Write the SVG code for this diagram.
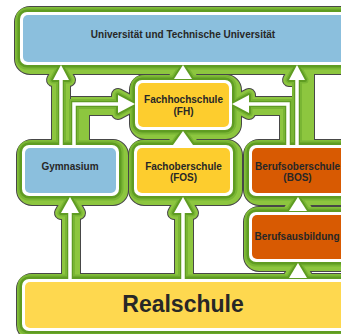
<svg xmlns="http://www.w3.org/2000/svg" xmlns:xlink="http://www.w3.org/1999/xlink" width="341" height="334" viewBox="0 0 341 334">
<style>
.ol{stroke:#474747;fill:#474747}
.lg{stroke:#8dc63f;fill:#8dc63f}
.mg{stroke:#79b534;fill:#79b534}
.dg{stroke:#5f9c22;fill:#5f9c22}
.aj{stroke-linejoin:round}
.wb{fill:#ffffff}
.blue{fill:#8bbfdd}
.yel{fill:#fdcd2e}
.ylt{fill:#fed84f}
.org{fill:#d85a02}
.t{font-family:"Liberation Sans",Arial,sans-serif;font-weight:bold;font-size:10px;fill:#272727;text-anchor:middle}
.big{font-size:23px}
.wl{fill:none;stroke:#ffffff;stroke-width:3.5}
.ah{fill:#ffffff}
</style>
<defs>
<g id="hnodes">
<rect x="22" y="14" width="336" height="53" rx="8"/>
<rect x="137" y="82" width="97" height="50" rx="8"/>
<rect x="24" y="147" width="97" height="51" rx="8"/>
<rect x="136" y="147" width="99" height="51" rx="8"/>
<rect x="251" y="147" width="106" height="51" rx="8"/>
<rect x="251" y="214" width="106" height="50" rx="8"/>
<rect x="24" y="281" width="336" height="52" rx="8"/>
</g>
<g id="hconn">
<path fill="none" d="M61 150 V70"/>
<path fill="none" d="M80 150 V106 H126"/>
<path fill="none" d="M183 62 V86"/>
<path fill="none" d="M183 127 V150"/>
<path fill="none" d="M305 150 V70"/>
<path fill="none" d="M289 150 V106 H242"/>
<path fill="none" d="M71 284 V200"/>
<path fill="none" d="M184 284 V200"/>
<path fill="none" d="M298 193 V218"/>
<path fill="none" d="M298 259 V285"/>
</g>
<g id="arrows">
<polygon points="61,65 53,80 69,80"/>
<polygon points="135,104 118,95 118,113"/>
<polygon points="183,65 174,79 192,79"/>
<polygon points="183,131 173,145 193,145"/>
<polygon points="297,65 289,80 305,80"/>
<polygon points="232,104 249,95 249,113"/>
<polygon points="70,197 61,213 79,213"/>
<polygon points="183,197 174,213 192,213"/>
<polygon points="298,197 289,211 307,211"/>
<polygon points="298,263 289,278 307,278"/>
</g>
<g id="wnodes">
<rect x="20" y="12" width="336" height="53" rx="7"/>
<rect x="135" y="80" width="97" height="50" rx="7"/>
<rect x="22" y="145" width="97" height="51" rx="7"/>
<rect x="134" y="145" width="99" height="51" rx="7"/>
<rect x="249" y="145" width="106" height="51" rx="7"/>
<rect x="249" y="212" width="106" height="50" rx="7"/>
<rect x="22" y="279" width="336" height="52" rx="7"/>
</g>
<g id="wlines">
<path fill="none" d="M61 146 V79"/>
<path fill="none" d="M74 146 V104 H119"/>
<path fill="none" d="M297 146 V79"/>
<path fill="none" d="M288 146 V104 H248"/>
<path fill="none" d="M70 280 V212"/>
<path fill="none" d="M183 280 V212"/>
</g>
</defs>
<g id="halo">
<use xlink:href="#hnodes" class="ol" stroke-width="16"/>
<use xlink:href="#hconn" class="ol" stroke-width="20"/>
<use xlink:href="#arrows" class="ol aj" stroke-width="14"/>
<use xlink:href="#hnodes" class="lg" stroke-width="14"/>
<use xlink:href="#hconn" class="lg" stroke-width="18"/>
<use xlink:href="#arrows" class="lg aj" stroke-width="12"/>
<use xlink:href="#wnodes" class="mg" stroke-width="9"/>
<use xlink:href="#wlines" class="mg" stroke-width="10"/>
<use xlink:href="#arrows" class="mg aj" stroke-width="7"/>
<use xlink:href="#wnodes" class="dg" stroke-width="5"/>
<use xlink:href="#wlines" class="dg" stroke-width="6"/>
<use xlink:href="#arrows" class="dg aj" stroke-width="4"/>
</g>
<g id="node-uni">
<rect class="wb" x="20" y="12" width="336" height="53" rx="7"/>
<rect class="blue" x="23" y="15" width="330" height="47" rx="5"/>
<text class="t" x="183" y="37.5">Universität und Technische Universität</text>
</g>
<g id="node-fh">
<rect class="wb" x="135" y="80" width="97" height="50" rx="7"/>
<rect class="yel" x="138" y="83" width="91" height="44" rx="5"/>
<text class="t" x="183.5" y="103">Fachhochschule</text>
<text class="t" x="183.5" y="114.5">(FH)</text>
</g>
<g id="node-gymnasium">
<rect class="wb" x="22" y="145" width="97" height="51" rx="7"/>
<rect class="blue" x="25" y="148" width="91" height="45" rx="5"/>
<text class="t" x="70" y="170">Gymnasium</text>
</g>
<g id="node-fos">
<rect class="wb" x="134" y="145" width="99" height="51" rx="7"/>
<rect class="yel" x="137" y="148" width="93" height="45" rx="5"/>
<text class="t" x="183.5" y="170">Fachoberschule</text>
<text class="t" x="183.5" y="181">(FOS)</text>
</g>
<g id="node-bos">
<rect class="wb" x="249" y="145" width="106" height="51" rx="7"/>
<rect class="org" x="252" y="148" width="100" height="45" rx="5"/>
<text class="t" x="297.5" y="170">Berufsoberschule</text>
<text class="t" x="297.5" y="181">(BOS)</text>
</g>
<g id="node-berufsausbildung">
<rect class="wb" x="249" y="212" width="106" height="50" rx="7"/>
<rect class="org" x="252" y="215" width="100" height="44" rx="5"/>
<text class="t" x="297" y="240">Berufsausbildung</text>
</g>
<g id="node-realschule">
<rect class="wb" x="22" y="279" width="336" height="52" rx="7"/>
<rect class="ylt" x="25" y="282" width="330" height="46" rx="5"/>
<text class="t big" x="183" y="312">Realschule</text>
</g>
<g id="connectors">
<use xlink:href="#wlines" class="wl"/>
<use xlink:href="#arrows" class="ah"/>
</g>
</svg>
